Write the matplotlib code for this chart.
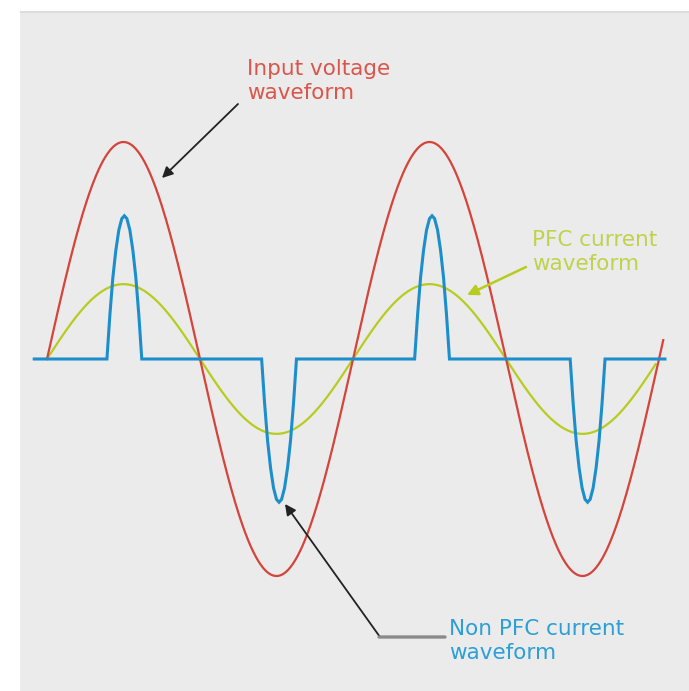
import matplotlib.pyplot as plt
import numpy as np
from matplotlib.patches import Rectangle

# waveform parameters (phase in degrees, amplitude relative to input voltage)
voltage_amp = 1.0
voltage_end_deg = 725
pfc_amp = 0.345
pfc_end_deg = 716
nonpfc_pulse_centers = [91, 273, 453, 636]
nonpfc_pulse_amps = [0.66, -0.66, 0.66, -0.66]
pulse_offsets = [-20.5, -17, -13.5, -10, -6.5, -3, 0, 3, 6.5, 10, 13.5, 17, 20.5]
pulse_shape = [0.0, 0.31, 0.57, 0.76, 0.90, 0.98, 1.0, 0.98, 0.90, 0.76, 0.57, 0.31, 0.0]
nonpfc_start_deg = -15
nonpfc_end_deg = 727

labels = {
    'voltage': 'Input voltage\nwaveform',
    'pfc': 'PFC current\nwaveform',
    'nonpfc': 'Non PFC current\nwaveform',
}

W, H = 689, 691
fig = plt.figure(figsize=(W / 100, H / 100), dpi=100)
fig.patch.set_facecolor('white')
fig.patches.append(Rectangle((20, 0), W - 20, H - 11, transform=None,
                             facecolor='#ebebeb', edgecolor='none', zorder=-2))
fig.patches.append(Rectangle((20, H - 13), W - 20, 2, transform=None,
                             facecolor='#dcdcdc', edgecolor='none', zorder=-1))

ax = fig.add_axes([0, 0, 1, 1])
ax.set_facecolor('none')
ax.axis('off')
px_per_deg = 0.85
x0_px, y0_px, px_per_unit = 47, 359, 217
ax.set_xlim(-x0_px / px_per_deg, (W - x0_px) / px_per_deg)
ax.set_ylim(-(H - y0_px) / px_per_unit, y0_px / px_per_unit)

red = '#d5443b'
green = '#b7cc1f'
blue = '#1b8ecb'

t = np.linspace(0, voltage_end_deg, 800)
ax.plot(t, voltage_amp * np.sin(np.radians(t)), color=red, lw=1.6, zorder=3)

t2 = np.linspace(0, pfc_end_deg, 800)
ax.plot(t2, pfc_amp * np.sin(np.radians(t2)), color=green, lw=1.6, zorder=2)

bx = [nonpfc_start_deg]
by = [0.0]
for c, a in zip(nonpfc_pulse_centers, nonpfc_pulse_amps):
    for o, s in zip(pulse_offsets, pulse_shape):
        bx.append(c + o)
        by.append(a * s)
bx.append(nonpfc_end_deg)
by.append(0.0)
ax.plot(bx, by, color=blue, lw=2.2, zorder=4, solid_joinstyle='miter')


def fp(x, y):
    # image pixel (top-left origin) -> figure pixels
    return (x, H - y)


fs = 15.5
fig.text(247 / W, 1 - 81 / H, labels['voltage'], color='#d9564c', fontsize=fs,
         va='center', ha='left', linespacing=1.3)
fig.text(532 / W, 1 - 252 / H, labels['pfc'], color='#bfd34a', fontsize=fs,
         va='center', ha='left', linespacing=1.3)
fig.text(449 / W, 1 - 641 / H, labels['nonpfc'], color='#2b9fd6', fontsize=fs,
         va='center', ha='left', linespacing=1.3)

arrow = dict(arrowstyle='-|>', color='#222222', lw=1.3, mutation_scale=16,
             shrinkA=0, shrinkB=0)
ax.annotate('', xy=fp(162, 178), xycoords='figure pixels',
            xytext=fp(238, 104), textcoords='figure pixels', arrowprops=arrow,
            zorder=6)
ax.annotate('', xy=fp(467, 295), xycoords='figure pixels',
            xytext=fp(526, 267), textcoords='figure pixels',
            arrowprops=dict(arrow, color=green, lw=1.8), zorder=6)
ax.annotate('', xy=fp(285, 504), xycoords='figure pixels',
            xytext=fp(380, 637), textcoords='figure pixels', arrowprops=arrow,
            zorder=6)
ax.annotate('', xy=fp(445, 637), xycoords='figure pixels',
            xytext=fp(379, 637), textcoords='figure pixels',
            arrowprops=dict(arrowstyle='-', color='#8a8a8a', lw=2.4,
                            shrinkA=0, shrinkB=0), zorder=6)

fig.savefig('out.png', dpi=100)
